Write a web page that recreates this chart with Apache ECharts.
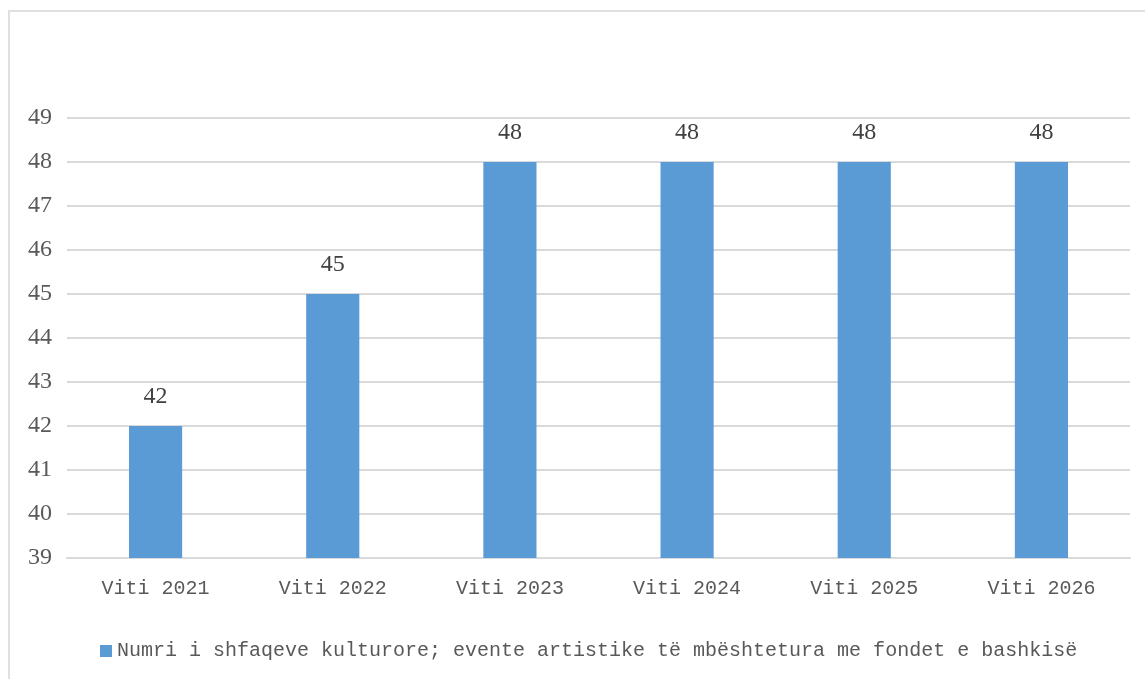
<!DOCTYPE html>
<html><head><meta charset="utf-8">
<script src="https://cdn.jsdelivr.net/npm/echarts@6/dist/echarts.min.js"></script>
<style>
html,body{margin:0;padding:0;background:#fff;}
#frame{position:absolute;left:8px;top:10px;width:1145px;height:679px;border-left:2px solid #e0e0e0;border-top:2px solid #e0e0e0;box-sizing:border-box;}
#c{position:absolute;left:0;top:0;width:1145px;height:679px;}
</style></head>
<body>
<div id="frame"></div>
<div id="c"></div>
<script>
const categories = ['Viti 2021','Viti 2022','Viti 2023','Viti 2024','Viti 2025','Viti 2026'];
const values = [42, 45, 48, 48, 48, 48];
const seriesName = 'Numri i shfaqeve kulturore; evente artistike të mbështetura me fondet e bashkisë';
const yMin = 39, yMax = 49, yStep = 1;

const mono = '"Liberation Mono", "DejaVu Sans Mono", monospace';
const serif = '"Liberation Serif", "DejaVu Serif", serif';
const txt = '#595959';
const chart = echarts.init(document.getElementById('c'), null, {renderer:'canvas'});
chart.setOption({
  animation:false,
  backgroundColor:'transparent',
  grid:{left:67,right:15,top:118,bottom:121,containLabel:false},
  legend:{
    data:[seriesName], left:95, top:636, icon:'rect', itemWidth:12, itemHeight:12, itemGap:8,
    textStyle:{fontFamily:mono,fontSize:20,color:txt}
  },
  xAxis:{
    type:'category', data:categories,
    axisLine:{show:true,lineStyle:{color:'#d9d9d9',width:2}},
    axisTick:{show:false},
    axisLabel:{fontFamily:mono,fontSize:20,color:txt,margin:21}
  },
  yAxis:{
    type:'value', min:yMin, max:yMax, interval:yStep,
    axisLine:{show:false}, axisTick:{show:false},
    splitLine:{lineStyle:{color:'#d9d9d9',width:2}},
    axisLabel:{fontFamily:serif,fontSize:24,color:txt,margin:15}
  },
  series:[{
    name:seriesName, type:'bar', data:values, barWidth:'30%',
    itemStyle:{color:'#5B9BD5'},
    label:{show:true,position:'top',distance:17,fontFamily:serif,fontSize:24,color:'#404040'}
  }]
});
</script>
</body></html>
